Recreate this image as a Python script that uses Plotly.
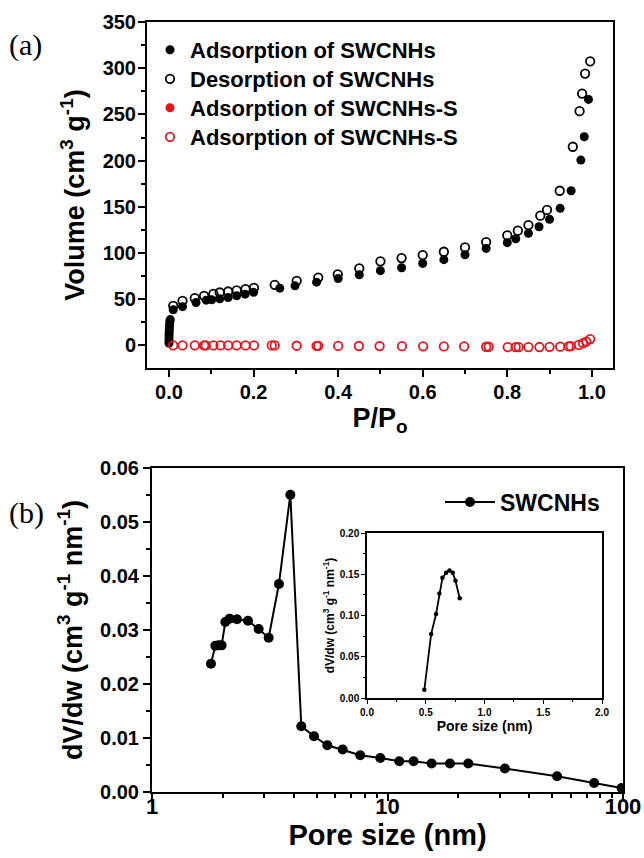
import plotly.graph_objects as go

# ---------------- Panel (a): N2 isotherms ----------------
ads_x = [0.00002, 0.00005, 0.0001, 0.0002, 0.0004, 0.0007, 0.001, 0.0015, 0.002, 0.003,
         0.010, 0.032, 0.064, 0.088, 0.101, 0.12, 0.14, 0.16, 0.18, 0.20,
         0.262, 0.298, 0.349, 0.40, 0.45, 0.50, 0.55, 0.60, 0.65, 0.70,
         0.75, 0.80, 0.82, 0.85, 0.875, 0.90, 0.925, 0.951, 0.974, 0.982, 0.992]
ads_y = [2.5, 5, 8, 11, 14, 17, 20, 23, 26, 28,
         38.6, 42, 46.5, 49, 49.4, 50.4, 51.9, 53.7, 55.5, 57.5,
         62, 64.5, 68.5, 72.5, 76.5, 80.9, 84.1, 88.8, 92.8, 98.2,
         105, 111.2, 115.5, 121.3, 128.5, 136.5, 148.4, 167.4, 200.6, 225.8, 266.2]

des_x = [0.010, 0.032, 0.061, 0.083, 0.105, 0.12, 0.14, 0.16, 0.181, 0.201,
         0.25, 0.302, 0.353, 0.399, 0.45, 0.50, 0.55, 0.60, 0.65, 0.70,
         0.75, 0.80, 0.825, 0.85, 0.878, 0.894, 0.924, 0.955, 0.971, 0.977, 0.984, 0.996]
des_y = [42.9, 48.3, 51.2, 53.7, 55.8, 57.3, 58.4, 59.5, 61, 62.4,
         65.6, 69.9, 73.5, 77, 83.4, 91, 94.6, 97.8, 101.4, 106.1,
         111.9, 119.1, 124.2, 130.3, 140.4, 146.6, 167.4, 215, 253.5, 272.6, 294.2, 307.5]

s_x = [0.010, 0.032, 0.061, 0.083, 0.087, 0.105, 0.122, 0.140, 0.160, 0.181, 0.201,
       0.243, 0.250, 0.302, 0.349, 0.353, 0.400, 0.449, 0.498, 0.551, 0.601, 0.650,
       0.698, 0.750, 0.756, 0.801, 0.820, 0.827, 0.850, 0.876, 0.900, 0.925, 0.945,
       0.950, 0.969, 0.979, 0.987, 0.996]
s_y = [0, 0, 0, 0, 0, 0, 0, 0, 0, 0, 0,
       0, 0, -0.3, -0.4, -0.4, -0.5, -0.6, -0.7, -0.8, -0.9, -1.0,
       -1.1, -1.4, -1.4, -1.8, -1.8, -1.8, -1.8, -1.7, -1.5, -1.3, -1.0,
       -0.8, 0.6, 2.4, 4.2, 6.9]

legend_a = ["Adsorption of SWCNHs", "Desorption of SWCNHs",
            "Adsorption of SWCNHs-S", "Adsorption of SWCNHs-S"]

# ---------------- Panel (b): pore size distribution ----------------
pore_x = [1.78, 1.857, 1.918, 1.975, 2.048, 2.136, 2.296, 2.556, 2.837, 3.128,
          3.46, 3.867, 4.305, 4.875, 5.552, 6.45, 7.66, 9.32, 11.22, 12.91,
          15.39, 18.42, 22.03, 31.5, 52.5, 75.4, 98.6]
pore_y = [0.02375, 0.02709, 0.02716, 0.02716, 0.03148, 0.0321, 0.0320, 0.0317, 0.0302, 0.02857,
          0.03853, 0.05505, 0.01219, 0.01033, 0.00866, 0.00786, 0.00681, 0.00631, 0.0057, 0.0057,
          0.00527, 0.00527, 0.00527, 0.00434, 0.00291, 0.00167, 0.00074]

inset_x = [0.488, 0.546, 0.588, 0.616, 0.642, 0.673, 0.702, 0.730, 0.753, 0.789]
inset_y = [0.010, 0.0777, 0.1018, 0.1268, 0.1457, 0.1517, 0.1546, 0.1517, 0.142, 0.121]

ticks_a_y = [0, 50, 100, 150, 200, 250, 300, 350]
ticks_a_x = [0.0, 0.2, 0.4, 0.6, 0.8, 1.0]
ticks_b_y = [0.00, 0.01, 0.02, 0.03, 0.04, 0.05, 0.06]
ticks_b_x = [1, 10, 100]
minor_b_x = [2, 3, 4, 5, 6, 7, 8, 9, 20, 30, 40, 50, 60, 70, 80, 90]

W, H = 644, 858
FONT = "Liberation Sans, Arial, sans-serif"
RED = "#e8141c"


def px(x):
    return x / W


def py(y):
    return 1 - y / H


fig = go.Figure()

fig.add_trace(go.Scatter(x=ads_x, y=ads_y, mode="markers", name=legend_a[0],
                         marker=dict(symbol="circle", size=9, color="black"),
                         xaxis="x", yaxis="y", legend="legend"))
fig.add_trace(go.Scatter(x=des_x, y=des_y, mode="markers", name=legend_a[1],
                         marker=dict(symbol="circle-open", size=8.5, color="black", line=dict(width=1.8)),
                         xaxis="x", yaxis="y", legend="legend3"))
fig.add_trace(go.Scatter(x=[None], y=[None], mode="markers", name=legend_a[2],
                         marker=dict(symbol="circle", size=9, color=RED),
                         xaxis="x", yaxis="y", legend="legend4"))
fig.add_trace(go.Scatter(x=s_x, y=s_y, mode="markers", name=legend_a[3],
                         marker=dict(symbol="circle-open", size=8.5, color=RED, line=dict(width=1.8)),
                         xaxis="x", yaxis="y", legend="legend5"))

fig.add_trace(go.Scatter(x=pore_x, y=pore_y, mode="lines+markers", name="SWCNHs",
                         line=dict(color="black", width=2),
                         marker=dict(symbol="circle", size=10, color="black"),
                         xaxis="x2", yaxis="y2", legend="legend2"))

fig.add_trace(go.Scatter(x=inset_x, y=inset_y, mode="lines+markers", showlegend=False,
                         line=dict(color="black", width=1.8),
                         marker=dict(symbol="circle", size=4.5, color="black"),
                         xaxis="x3", yaxis="y3"))

common = dict(showline=True, linewidth=2, linecolor="black", mirror=True,
              ticks="outside", ticklen=7, tickwidth=2, tickcolor="black",
              showgrid=False, zeroline=False, automargin=False)
bold = dict(family=FONT, color="black", weight="bold")


def leg(y_center):
    return dict(x=px(150), y=py(y_center), xanchor="left", yanchor="middle",
                bgcolor="rgba(0,0,0,0)", font=dict(**bold, size=22),
                itemsizing="trace")


fig.update_layout(
    width=W, height=H,
    margin=dict(l=0, r=0, t=0, b=0, autoexpand=False),
    paper_bgcolor="white", plot_bgcolor="white",
    showlegend=True,
    xaxis=dict(**common, domain=[px(147), px(613)], anchor="y",
               range=[-0.052, 1.05], tickvals=ticks_a_x, tickformat=".1f",
               tickfont=dict(**bold, size=20), ticklabelstandoff=-2,
               minor=dict(ticks="outside", ticklen=4, tickwidth=1.5, tickcolor="black", dtick=0.1, tick0=0),
               title=dict(text="P/P<sub>o</sub>", font=dict(**bold, size=27), standoff=3)),
    yaxis=dict(**common, domain=[py(368), py(22)], anchor="x",
               range=[-24.4, 350], tickvals=ticks_a_y,
               tickfont=dict(**bold, size=20), ticklabelstandoff=-2,
               minor=dict(ticks="outside", ticklen=4, tickwidth=1.5, tickcolor="black", dtick=25, tick0=0),
               title=dict(text="Volume (cm<sup>3</sup> g<sup>-1</sup>)", font=dict(**bold, size=27), standoff=10)),
    xaxis2=dict(**common, domain=[px(152), px(623)], anchor="y2", type="log",
                range=[0, 2], tickvals=ticks_b_x, ticktext=[str(v) for v in ticks_b_x],
                tickfont=dict(**bold, size=22), ticklabelstandoff=-13,
                minor=dict(ticks="outside", ticklen=4, tickwidth=1.5, tickcolor="black", tickvals=minor_b_x),
                title=dict(text="Pore size (nm)", font=dict(**bold, size=29), standoff=6)),
    yaxis2=dict(**common, domain=[py(792), py(468)], anchor="x2",
                range=[0, 0.06], tickvals=ticks_b_y, tickformat=".2f",
                tickfont=dict(**bold, size=20),
                minor=dict(ticks="outside", ticklen=4, tickwidth=1.5, tickcolor="black", dtick=0.005, tick0=0),
                title=dict(text="dV/dw (cm<sup>3</sup> g<sup>-1</sup> nm<sup>-1</sup>)", font=dict(**bold, size=27), standoff=10)),
    xaxis3=dict(showline=True, linewidth=1.5, linecolor="black", mirror=True,
                ticks="outside", ticklen=4, tickwidth=1.2, tickcolor="black",
                showgrid=False, zeroline=False, automargin=False,
                domain=[px(367), px(602)], anchor="y3",
                range=[0, 2], dtick=0.5, tick0=0, tickformat=".1f",
                tickfont=dict(**bold, size=10),
                minor=dict(ticks="outside", ticklen=2.5, tickwidth=1, tickcolor="black", dtick=0.25, tick0=0),
                title=dict(text="Pore size (nm)", font=dict(**bold, size=14), standoff=2)),
    yaxis3=dict(showline=True, linewidth=1.5, linecolor="black", mirror=True,
                ticks="outside", ticklen=4, tickwidth=1.2, tickcolor="black",
                showgrid=False, zeroline=False, automargin=False,
                domain=[py(698), py(533)], anchor="x3",
                range=[0, 0.2], dtick=0.05, tick0=0, tickformat=".2f",
                tickfont=dict(**bold, size=10),
                minor=dict(ticks="outside", ticklen=2.5, tickwidth=1, tickcolor="black", dtick=0.025, tick0=0),
                title=dict(text="dV/dw (cm<sup>3</sup> g<sup>-1</sup> nm<sup>-1</sup>)", font=dict(**bold, size=12), standoff=3)),
    legend=leg(50),
    legend3=leg(79),
    legend4=leg(108),
    legend5=leg(137),
    legend2=dict(x=px(440), y=py(502), xanchor="left", yanchor="middle",
                 bgcolor="rgba(0,0,0,0)", font=dict(**bold, size=23),
                 itemwidth=50),
)

fig.add_annotation(text="(a)", x=px(7), y=py(45), xref="paper", yref="paper",
                   xanchor="left", yanchor="middle", showarrow=False,
                   font=dict(family="Liberation Serif, Times New Roman, serif", size=30, color="black"))
fig.add_annotation(text="(b)", x=px(7), y=py(513), xref="paper", yref="paper",
                   xanchor="left", yanchor="middle", showarrow=False,
                   font=dict(family="Liberation Serif, Times New Roman, serif", size=30, color="black"))

fig.write_html("out.html", config={"displayModeBar": False},
               post_script="document.body.style.margin='0px';")
